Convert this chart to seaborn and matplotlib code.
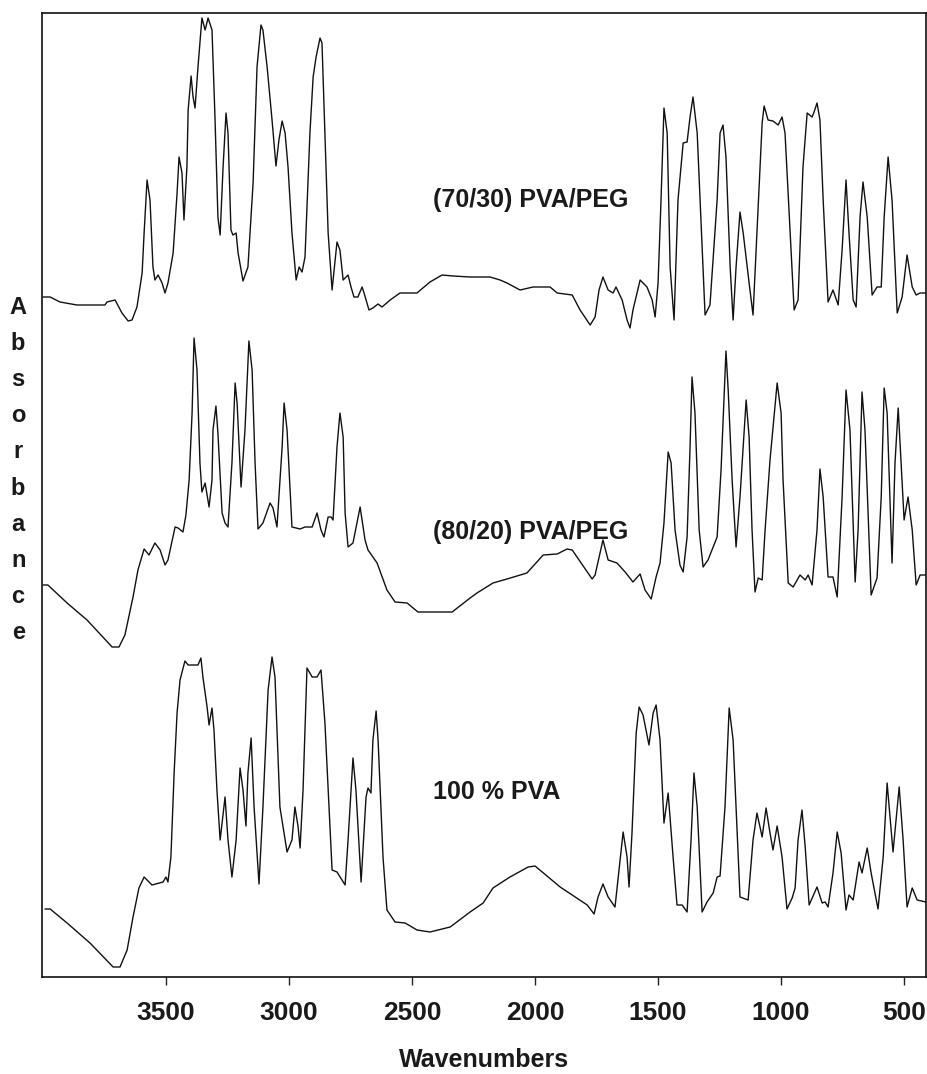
import numpy as np
import pandas as pd
import matplotlib
matplotlib.use("Agg")
import matplotlib.pyplot as plt
import seaborn as sns

# ---------------- data ----------------
wn_7030 = [4001, 3971, 3931, 3862, 3748, 3740, 3707, 3679, 3654, 3638, 3618, 3597, 3589, 3577, 3565,
           3553, 3545, 3532, 3516, 3504, 3492, 3471, 3455, 3447, 3435, 3427, 3415, 3410, 3398, 3390,
           3382, 3370, 3354, 3341, 3329, 3313, 3301, 3289, 3280, 3268, 3256, 3248, 3236, 3228, 3215,
           3207, 3187, 3167, 3146, 3130, 3114, 3106, 3089, 3069, 3053, 3041, 3028, 3016, 3004, 2988,
           2971, 2959, 2947, 2935, 2915, 2902, 2890, 2874, 2866, 2854, 2841, 2825, 2821, 2805, 2793,
           2780, 2760, 2748, 2736, 2720, 2703, 2695, 2675, 2659, 2638, 2622, 2589, 2549, 2480, 2427,
           2378, 2333, 2264, 2252, 2183, 2142, 2114, 2061, 2008, 1939, 1910, 1849, 1817, 1776, 1756,
           1740, 1724, 1703, 1683, 1671, 1646, 1626, 1614, 1602, 1573, 1545, 1524, 1512, 1500, 1488,
           1476, 1463, 1451, 1435, 1419, 1398, 1382, 1370, 1358, 1341, 1329, 1309, 1289, 1260, 1248,
           1236, 1224, 1207, 1195, 1183, 1167, 1154, 1130, 1114, 1098, 1077, 1069, 1053, 1033, 1012,
           996, 984, 963, 947, 931, 911, 894, 874, 866, 854, 842, 829, 809, 789, 768,
           752, 736, 724, 707, 695, 679, 667, 650, 630, 610, 593, 581, 565, 549, 528,
           508, 488, 467, 451, 435, 411]
ab_7030 = [6.80, 6.80, 6.75, 6.72, 6.72, 6.75, 6.77, 6.64, 6.56, 6.57, 6.70, 7.04, 7.44, 7.97, 7.77,
           7.10, 6.97, 7.02, 6.94, 6.84, 6.94, 7.24, 7.84, 8.20, 8.04, 7.57, 8.10, 8.67, 9.01, 8.80,
           8.69, 9.10, 9.59, 9.47, 9.59, 9.47, 8.60, 7.60, 7.42, 8.10, 8.64, 8.44, 7.47, 7.42, 7.44,
           7.24, 6.96, 7.10, 7.94, 9.10, 9.52, 9.47, 9.10, 8.57, 8.11, 8.37, 8.56, 8.44, 8.10, 7.44,
           6.97, 7.10, 7.05, 7.20, 8.44, 9.00, 9.20, 9.39, 9.34, 8.44, 7.44, 6.87, 6.97, 7.35, 7.27,
           6.97, 7.02, 6.90, 6.80, 6.80, 6.90, 6.84, 6.67, 6.69, 6.73, 6.70, 6.77, 6.84, 6.84, 6.95,
           7.02, 7.01, 7.00, 7.00, 7.00, 6.97, 6.94, 6.87, 6.90, 6.90, 6.84, 6.82, 6.67, 6.52, 6.60,
           6.87, 7.00, 6.87, 6.84, 6.90, 6.77, 6.57, 6.49, 6.67, 6.97, 6.90, 6.77, 6.60, 6.94, 7.77,
           8.69, 8.44, 7.10, 6.57, 7.77, 8.34, 8.35, 8.60, 8.80, 8.44, 7.77, 6.62, 6.72, 7.77, 8.44,
           8.52, 8.20, 7.10, 6.57, 7.10, 7.65, 7.44, 6.94, 6.62, 7.44, 8.54, 8.71, 8.57, 8.56, 8.52,
           8.60, 8.44, 7.44, 6.67, 6.77, 8.10, 8.64, 8.60, 8.65, 8.74, 8.57, 7.77, 6.75, 6.87, 6.72,
           7.27, 7.97, 7.44, 6.77, 6.70, 7.60, 7.95, 7.60, 6.82, 6.90, 6.90, 7.60, 8.20, 7.77, 6.64,
           6.80, 7.22, 6.90, 6.82, 6.84, 6.84]

wn_8020 = [4000, 3980, 3902, 3821, 3719, 3691, 3667, 3634, 3614, 3589, 3569, 3545, 3524, 3504, 3492,
           3463, 3451, 3431, 3419, 3406, 3394, 3386, 3374, 3362, 3354, 3341, 3325, 3313, 3309, 3297,
           3289, 3272, 3260, 3248, 3232, 3219, 3211, 3195, 3179, 3163, 3150, 3138, 3126, 3106, 3077,
           3065, 3049, 3028, 3020, 3008, 2988, 2955, 2935, 2906, 2886, 2870, 2858, 2841, 2829, 2821,
           2805, 2793, 2780, 2772, 2760, 2740, 2711, 2691, 2679, 2642, 2602, 2569, 2520, 2476, 2337,
           2264, 2236, 2171, 2114, 2033, 1967, 1910, 1870, 1849, 1768, 1756, 1724, 1703, 1667, 1634,
           1602, 1573, 1553, 1528, 1508, 1492, 1476, 1459, 1447, 1431, 1411, 1398, 1382, 1370, 1362,
           1350, 1333, 1317, 1297, 1260, 1244, 1224, 1215, 1199, 1183, 1167, 1142, 1130, 1118, 1106,
           1093, 1077, 1065, 1045, 1016, 1000, 992, 971, 951, 923, 902, 890, 874, 854, 842,
           829, 809, 789, 772, 752, 736, 720, 699, 687, 671, 659, 634, 610, 593, 581,
           569, 549, 537, 524, 512, 500, 484, 467, 451, 435, 411]
ab_8020 = [3.92, 3.92, 3.74, 3.57, 3.30, 3.30, 3.42, 3.80, 4.07, 4.28, 4.22, 4.34, 4.27, 4.12, 4.17,
           4.50, 4.49, 4.45, 4.62, 4.97, 5.64, 6.39, 6.07, 5.14, 4.85, 4.94, 4.70, 4.97, 5.47, 5.71,
           5.44, 4.64, 4.54, 4.50, 5.14, 5.94, 5.74, 4.90, 5.47, 6.36, 6.07, 5.14, 4.48, 4.54, 4.74,
           4.69, 4.50, 5.30, 5.74, 5.47, 4.50, 4.48, 4.50, 4.50, 4.64, 4.47, 4.40, 4.60, 4.60, 4.57,
           5.30, 5.64, 5.40, 4.64, 4.30, 4.34, 4.70, 4.37, 4.27, 4.14, 3.87, 3.75, 3.74, 3.65, 3.65,
           3.79, 3.84, 3.94, 3.98, 4.04, 4.22, 4.23, 4.28, 4.27, 3.98, 4.02, 4.37, 4.17, 4.14, 4.05,
           3.95, 4.03, 3.87, 3.78, 4.00, 4.14, 4.54, 5.25, 5.14, 4.47, 4.12, 4.05, 4.40, 5.30, 6.00,
           5.64, 4.47, 4.10, 4.17, 4.40, 5.07, 6.26, 5.87, 4.97, 4.30, 4.80, 5.77, 5.40, 4.47, 3.85,
           3.99, 3.97, 4.47, 5.17, 5.94, 5.64, 4.97, 3.94, 3.90, 4.02, 3.97, 4.02, 3.92, 4.47, 5.08,
           4.80, 4.00, 4.00, 3.80, 4.80, 5.87, 5.47, 3.95, 4.47, 5.85, 5.47, 3.82, 3.99, 4.80, 5.89,
           5.64, 4.14, 5.14, 5.69, 5.14, 4.57, 4.80, 4.47, 3.92, 4.02, 4.02]

wn_pva = [3992, 3971, 3902, 3809, 3715, 3687, 3658, 3634, 3610, 3589, 3557, 3512, 3500, 3492, 3480,
          3467, 3455, 3443, 3423, 3410, 3370, 3358, 3350, 3333, 3325, 3313, 3305, 3293, 3280, 3260,
          3248, 3232, 3215, 3199, 3187, 3175, 3167, 3154, 3142, 3122, 3106, 3085, 3069, 3057, 3037,
          3008, 2988, 2976, 2963, 2955, 2943, 2927, 2906, 2886, 2870, 2854, 2825, 2805, 2772, 2760,
          2740, 2728, 2707, 2687, 2679, 2667, 2659, 2646, 2638, 2618, 2602, 2569, 2528, 2480, 2427,
          2345, 2264, 2211, 2171, 2102, 2028, 2000, 1898, 1788, 1760, 1744, 1724, 1703, 1675, 1663,
          1642, 1626, 1618, 1606, 1589, 1577, 1561, 1537, 1520, 1508, 1492, 1476, 1459, 1439, 1423,
          1402, 1382, 1366, 1354, 1341, 1321, 1301, 1276, 1260, 1248, 1228, 1211, 1195, 1167, 1134,
          1114, 1098, 1077, 1061, 1045, 1033, 1016, 996, 976, 955, 943, 931, 915, 902, 886,
          854, 833, 821, 809, 789, 772, 756, 736, 724, 707, 683, 671, 650, 634, 606,
          585, 569, 545, 520, 504, 488, 467, 447, 411]
ab_pva = [0.68, 0.68, 0.54, 0.34, 0.10, 0.10, 0.27, 0.60, 0.89, 1.00, 0.92, 0.95, 1.00, 0.95, 1.20,
          2.04, 2.64, 2.97, 3.16, 3.12, 3.12, 3.19, 3.00, 2.70, 2.52, 2.69, 2.47, 1.87, 1.37, 1.80,
          1.37, 1.00, 1.37, 2.09, 1.87, 1.51, 2.04, 2.39, 1.70, 0.93, 1.70, 2.87, 3.20, 3.00, 1.70,
          1.25, 1.37, 1.70, 1.50, 1.29, 1.87, 3.09, 3.00, 3.00, 3.07, 2.54, 1.07, 1.05, 0.92, 1.37,
          2.19, 1.87, 0.95, 1.80, 1.89, 1.84, 2.37, 2.66, 2.37, 1.20, 0.67, 0.55, 0.54, 0.47, 0.45,
          0.50, 0.65, 0.74, 0.89, 1.00, 1.10, 1.11, 0.90, 0.72, 0.63, 0.80, 0.93, 0.80, 0.70, 0.97,
          1.45, 1.20, 0.90, 1.44, 2.44, 2.70, 2.62, 2.32, 2.64, 2.72, 2.37, 1.54, 1.84, 1.20, 0.72,
          0.72, 0.65, 1.37, 2.04, 1.70, 0.65, 0.75, 0.84, 1.00, 1.01, 1.70, 2.69, 2.37, 0.80, 0.77,
          1.37, 1.64, 1.40, 1.69, 1.44, 1.27, 1.51, 1.20, 0.68, 0.79, 0.89, 1.37, 1.67, 1.30, 0.72,
          0.90, 0.74, 0.75, 0.70, 1.04, 1.45, 1.24, 0.67, 0.82, 0.77, 1.15, 1.04, 1.29, 1.04, 0.68,
          1.20, 1.94, 1.25, 1.90, 1.37, 0.70, 0.89, 0.77, 0.75]

sample_labels = ["(70/30) PVA/PEG", "(80/20) PVA/PEG", "100 % PVA"]
xtick_values = [3500, 3000, 2500, 2000, 1500, 1000, 500]

# ---------------- styling ----------------
sns.set_theme(style="white")
plt.rcParams["font.family"] = ["Liberation Sans", "DejaVu Sans"]
plt.rcParams["font.weight"] = "bold"

fig = plt.figure(figsize=(9.27, 10.74), dpi=100)
ax = fig.add_axes([42 / 927, 1 - 977 / 1074, 884 / 927, 964 / 1074])

series = [(wn_7030, ab_7030), (wn_8020, ab_8020), (wn_pva, ab_pva)]
for (wn, ab), lab in zip(series, sample_labels):
    df = pd.DataFrame({"Wavenumbers": wn, "Absorbance": ab})
    sns.lineplot(data=df, x="Wavenumbers", y="Absorbance", ax=ax, color="#111111",
                 linewidth=1.0, estimator=None, legend=False)

ax.set_xlim(4004, 411)
ax.set_ylim(0, 9.64)

# curve labels
label_pos = [(2016, 7.77), (2016, 4.45), (2154, 1.85)]
for lab, (x, y) in zip(sample_labels, label_pos):
    ax.text(x, y, lab, ha="center", va="center", fontsize=18, fontweight="bold", color="#1a1a1a")

ax.set_xticks(xtick_values)
ax.set_xticklabels([str(v) for v in xtick_values], fontsize=19, fontweight="bold", color="#1a1a1a")
ax.set_yticks([])
ax.tick_params(axis="x", direction="out", length=6, width=1.0, color="#222222", pad=11, bottom=True)

for s in ax.spines.values():
    s.set_visible(True)
    s.set_color("#111111")
    s.set_linewidth(1.2)

ax.set_xlabel("Wavenumbers", fontsize=18, fontweight="bold", color="#1a1a1a", va="center")
ax.xaxis.set_label_coords(0.500, -0.086)
ax.set_ylabel("\n".join("Absorbance"), rotation=0, fontsize=17, fontweight="bold",
              color="#1a1a1a", va="center", ha="center", linespacing=1.73)
ax.yaxis.set_label_coords(-0.027, 0.526)

fig.savefig("out.png", dpi=100)
